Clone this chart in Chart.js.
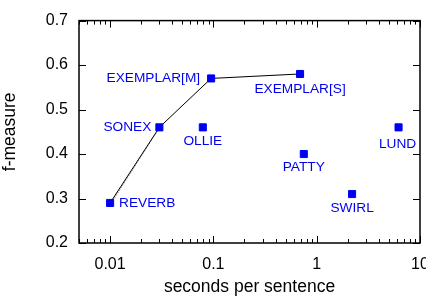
<!DOCTYPE html>
<html>
<head>
<meta charset="utf-8">
<script src="https://cdn.jsdelivr.net/npm/chart.js@4/dist/chart.umd.min.js"></script>
<style>
  body { margin: 0; background: #fff; }
  canvas { display: block; }
</style>
</head>
<body>
<canvas id="chart" width="426" height="298"></canvas>
<script>
// Data
const systems = ['REVERB', 'SONEX', 'EXEMPLAR[M]', 'EXEMPLAR[S]', 'OLLIE', 'PATTY', 'SWIRL', 'LUND'];
const secondsPerSentence = [0.01, 0.03, 0.095, 0.69, 0.079, 0.75, 2.2, 6.2];
const fMeasure = [0.29, 0.46, 0.57, 0.58, 0.46, 0.40, 0.31, 0.46];
const frontierSystems = ['REVERB', 'SONEX', 'EXEMPLAR[M]', 'EXEMPLAR[S]'];
const dottedX = [0.0103, 0.0302];
const dottedY = [0.29, 0.46];
const xTicks = [0.01, 0.1, 1, 10];
const yTicks = [0.2, 0.3, 0.4, 0.5, 0.6, 0.7];

// Label placement (style only)
const labelPlacement = {
    'REVERB': { dx: 9, dy: 0, align: 'left' },
    'SONEX': { dx: -8, dy: 0, align: 'right' },
    'EXEMPLAR[M]': { dx: -11, dy: 0, align: 'right' },
    'EXEMPLAR[S]': { dx: 0, dy: 15, align: 'center' },
    'OLLIE': { dx: 0, dy: 14, align: 'center' },
    'PATTY': { dx: 0, dy: 13, align: 'center' },
    'SWIRL': { dx: 0, dy: 14, align: 'center' },
    'LUND': { dx: -1, dy: 17, align: 'center' }
};

const FONT = '"Liberation Sans", Arial, Helvetica, sans-serif';
const BLUE = '#0000f0';

const points = systems.map((name, i) => ({ x: secondsPerSentence[i], y: fMeasure[i] }));
const frontier = frontierSystems.map(name => points[systems.indexOf(name)]);
const dotted = dottedX.map((x, i) => ({ x: x, y: dottedY[i] }));

// Inward ticks and closed frame, gnuplot style
const framePlugin = {
    id: 'frame',
    afterDraw(chart) {
        const { ctx, chartArea: a, scales: { x, y } } = chart;
        ctx.save();
        ctx.strokeStyle = '#000';
        ctx.lineWidth = 1;
        ctx.beginPath();
        for (let e = -3; e <= 1; e++) {
            for (let k = 1; k <= 9; k++) {
                const v = k * Math.pow(10, e);
                if (v < x.min * 0.999 || v > x.max * 1.001) continue;
                const px = Math.round(x.getPixelForValue(v)) + 0.5;
                const len = k === 1 ? 7 : 4;
                ctx.moveTo(px, a.bottom);
                ctx.lineTo(px, a.bottom - len);
                ctx.moveTo(px, a.top);
                ctx.lineTo(px, a.top + len);
            }
        }
        yTicks.forEach(v => {
            const py = Math.round(y.getPixelForValue(v)) + 0.5;
            ctx.moveTo(a.left, py);
            ctx.lineTo(a.left + 7, py);
            ctx.moveTo(a.right, py);
            ctx.lineTo(a.right - 7, py);
        });
        ctx.stroke();
        ctx.lineWidth = 1.5;
        ctx.strokeRect(a.left, a.top, a.right - a.left, a.bottom - a.top);
        ctx.restore();
    }
};

// Blue system names next to each marker
const labelPlugin = {
    id: 'pointLabels',
    afterDatasetsDraw(chart) {
        const { ctx, scales: { x, y } } = chart;
        ctx.save();
        ctx.font = '13.7px ' + FONT;
        ctx.fillStyle = BLUE;
        ctx.textBaseline = 'middle';
        systems.forEach((name, i) => {
            const p = labelPlacement[name];
            ctx.textAlign = p.align;
            ctx.fillText(name,
                x.getPixelForValue(secondsPerSentence[i]) + p.dx,
                y.getPixelForValue(fMeasure[i]) + p.dy);
        });
        ctx.restore();
    }
};

new Chart(document.getElementById('chart').getContext('2d'), {
    type: 'scatter',
    data: {
        datasets: [
            {
                label: 'systems',
                data: points,
                pointStyle: 'rect',
                pointRadius: 5,
                borderWidth: 1,
                backgroundColor: BLUE,
                borderColor: BLUE,
                order: 0
            },
            {
                label: 'frontier',
                data: frontier,
                showLine: true,
                pointRadius: 0,
                borderColor: '#000',
                borderWidth: 1,
                order: 1
            },
            {
                label: 'dotted',
                data: dotted,
                showLine: true,
                pointRadius: 0,
                borderColor: '#777',
                borderWidth: 1,
                borderDash: [1, 1],
                order: 2
            }
        ]
    },
    options: {
        responsive: false,
        animation: false,
        layout: { padding: { top: 16, right: 6, left: 0, bottom: 0 } },
        plugins: {
            legend: { display: false },
            tooltip: { enabled: false }
        },
        scales: {
            x: {
                type: 'logarithmic',
                min: 0.005,
                max: 10,
                grid: { display: false, drawTicks: false },
                border: { display: false },
                afterBuildTicks: scale => { scale.ticks = xTicks.map(v => ({ value: v })); },
                afterFit: scale => {
                    scale.height = 55;
                    scale.paddingLeft = 0;
                    scale.paddingRight = 0;
                },
                ticks: {
                    padding: 12,
                    color: '#000',
                    font: { family: FONT, size: 16 },
                    maxRotation: 0,
                    autoSkip: false,
                    callback: value => String(value)
                },
                title: {
                    display: true,
                    text: 'seconds per sentence',
                    color: '#000',
                    font: { family: FONT, size: 17.5 },
                    padding: { top: 0, bottom: 0 }
                }
            },
            y: {
                min: 0.2,
                max: 0.7,
                grid: { display: false, drawTicks: false },
                border: { display: false },
                afterBuildTicks: scale => { scale.ticks = yTicks.map(v => ({ value: v })); },
                afterFit: scale => { scale.width = 79; },
                ticks: {
                    padding: 11,
                    color: '#000',
                    font: { family: FONT, size: 16 },
                    callback: value => Number(value).toFixed(1)
                },
                title: {
                    display: true,
                    text: 'f-measure',
                    color: '#000',
                    font: { family: FONT, size: 17.5 },
                    padding: { top: 0, bottom: 0 }
                }
            }
        }
    },
    plugins: [framePlugin, labelPlugin]
});
</script>
</body>
</html>
